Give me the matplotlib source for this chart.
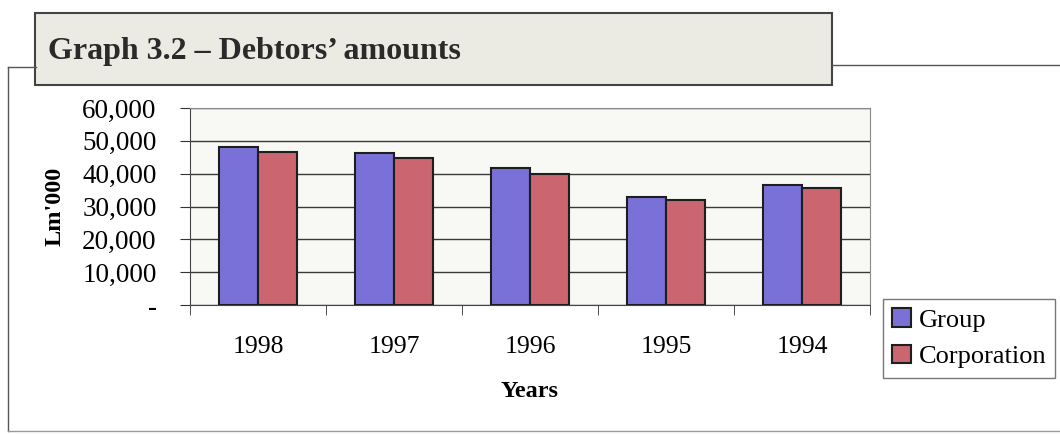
import numpy as np
import matplotlib
matplotlib.use("Agg")
import matplotlib.pyplot as plt
from matplotlib.patches import Rectangle
from matplotlib.lines import Line2D
from matplotlib.ticker import FuncFormatter

# values (Lm'000)
years = ["1998", "1997", "1996", "1995", "1994"]
group = [48000, 46200, 41600, 33000, 36500]
corporation = [46700, 44700, 40000, 32100, 35600]

plt.rcParams["font.family"] = ["Liberation Serif", "DejaVu Serif"]

fig = plt.figure(figsize=(10.6, 4.34), dpi=100)
W, H = 1060, 434


def fx(px):
    return px / W


def fy(py):
    return 1 - py / H


# outer frame
frame_col = "#555555"
fig.add_artist(Line2D([fx(8), fx(8)], [fy(67), fy(431)], color=frame_col, lw=1))
fig.add_artist(Line2D([fx(8), fx(1060)], [fy(431), fy(431)], color="#999999", lw=1))
fig.add_artist(Line2D([fx(8), fx(36)], [fy(67), fy(67)], color=frame_col, lw=1))
fig.add_artist(Line2D([fx(832), fx(1060)], [fy(65), fy(65)], color=frame_col, lw=1))

# title box
fig.add_artist(Rectangle((fx(35), fy(85)), fx(832) - fx(35), fy(13) - fy(85),
                         facecolor="#ebebe4", edgecolor="#444444", lw=1.5))
fig.text(fx(48), fy(51), "Graph 3.2 \u2013 Debtors\u2019 amounts", fontsize=23,
         fontweight="bold", va="center", ha="left", color="#2a2a2a")

ax = fig.add_axes([fx(190), fy(305), fx(870) - fx(190), fy(108) - fy(305)])
ax.set_facecolor("#f8f8f4")

x = np.arange(len(years))
w = 0.29
ax.bar(x - w / 2, group, w, color="#7a71d8", edgecolor="#1e1e1e", lw=1.5,
       label="Group", zorder=3)
ax.bar(x + w / 2, corporation, w, color="#cb6570", edgecolor="#1e1e1e", lw=1.5,
       label="Corporation", zorder=3)

ax.set_xlim(-0.5, len(years) - 0.5)
ax.set_ylim(0, 60000)
ax.set_yticks(np.arange(0, 60001, 10000))
ax.yaxis.set_major_formatter(FuncFormatter(lambda v, p: "-" if v == 0 else f"{int(v):,}"))
ax.grid(axis="y", color="#3a3a3a", lw=1, zorder=1)

ax.set_xticks(x)
ax.set_xticklabels(years)
ax.set_xticks(np.arange(-0.5, len(years)), minor=True)
ax.tick_params(axis="x", which="major", length=0, pad=22, labelsize=18.5)
ax.tick_params(axis="x", which="minor", length=7, direction="out", color="#333333")
ax.tick_params(axis="y", length=7, direction="out", pad=17, labelsize=19.5,
               color="#333333")

for s in ["top", "right"]:
    ax.spines[s].set_color("#8a8a8a")
for s in ["left", "bottom"]:
    ax.spines[s].set_color("#444444")

ax.set_xlabel("Years", fontsize=17.5, fontweight="bold", labelpad=17)
ax.set_ylabel("Lm'000", fontsize=17.5, fontweight="bold", labelpad=12)

leg = fig.legend(loc="upper left", bbox_to_anchor=(fx(883), fy(299)),
                 fontsize=19, frameon=True, fancybox=False, handlelength=0.7,
                 handleheight=0.7, handletextpad=0.3, borderpad=0.35,
                 labelspacing=0.5, borderaxespad=0)
leg.get_frame().set_edgecolor("#555555")
leg.get_frame().set_linewidth(1)

fig.savefig("out.png", dpi=100)
